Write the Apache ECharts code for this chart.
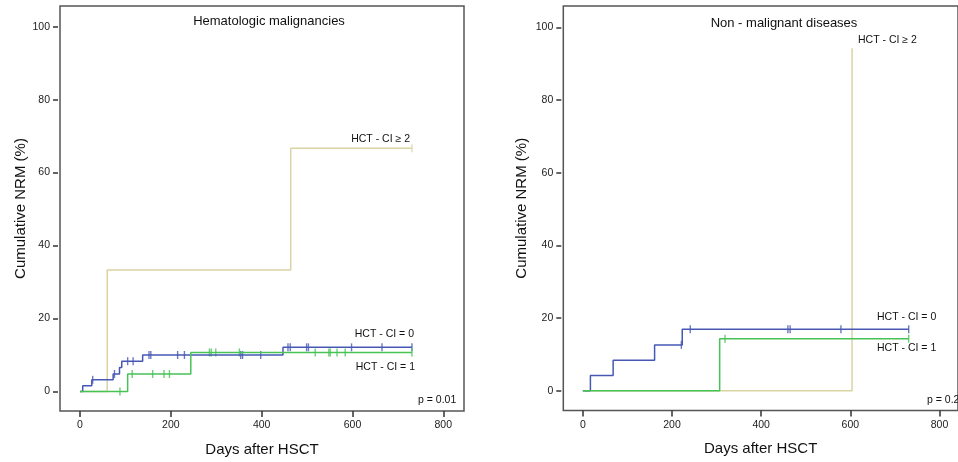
<!DOCTYPE html>
<html>
<head>
<meta charset="utf-8">
<script src="https://cdn.jsdelivr.net/npm/echarts@6/dist/echarts.min.js"></script>
<style>
  html, body { margin: 0; padding: 0; background: #fff; }
  #chart { width: 958px; height: 462px; }
</style>
</head>
<body>
<div id="chart"></div>
<script>
// Curvas de incidencia acumulada (dia, %)
const xTicks = [0, 200, 400, 600, 800];
const yTicks = [0, 20, 40, 60, 80, 100];

// Hematologic malignancies
const hemCi0Steps = [[0, 0], [6, 1.6], [26, 3.2], [73, 4.8], [87, 6.6], [92, 8.3], [138, 10.0], [447, 12.1], [731, 12.1]];
const hemCi0Censor = [28, 76, 105, 117, 152, 156, 215, 230, 354, 358, 398, 458, 463, 499, 503, 598, 665, 731];
const hemCi1Steps = [[0, 0], [105, 4.8], [244, 10.7], [731, 10.7]];
const hemCi1Censor = [88, 115, 160, 185, 197, 285, 289, 299, 351, 518, 548, 551, 566, 584, 731];
const hemCi2Steps = [[0, 0], [60, 33.3], [464, 66.7], [731, 66.7]];
const hemCi2Censor = [731];

// Non - malignant diseases
const nonCi0Steps = [[0, 0], [17, 4.2], [68, 8.4], [161, 12.6], [223, 16.9], [731, 16.9]];
const nonCi0Censor = [221, 241, 460, 465, 579, 731];
const nonCi1Steps = [[0, 0], [307, 14.3], [731, 14.3]];
const nonCi1Censor = [319, 731];
const nonCi2Steps = [[0, 0], [604, 94.2]];

const colores = { ci0: '#4658b4', ci1: '#47c255', ci2: '#dad4a3' };
const fuente = "'Liberation Sans', Arial, Helvetica, sans-serif";

// valor de la curva escalonada en un dia dado
function valorEn(steps, dia) {
  let v = 0;
  steps.forEach(p => { if (p[0] <= dia) v = p[1]; });
  return v;
}

function linea(steps, color, idx) {
  return {
    type: 'line', step: 'end', data: steps, xAxisIndex: idx, yAxisIndex: idx,
    showSymbol: false, silent: true, animation: false,
    lineStyle: { color: color, width: 1.5 }
  };
}

function censuras(steps, dias, color, idx) {
  return {
    type: 'scatter', xAxisIndex: idx, yAxisIndex: idx, silent: true, animation: false,
    data: dias.map(d => [d, valorEn(steps, d)]),
    symbol: 'rect', symbolSize: [1.4, 8],
    itemStyle: { color: color }
  };
}

function ejeX(idx, min, max) {
  return {
    type: 'value', gridIndex: idx, min: min, max: max,
    name: 'Days after HSCT', nameLocation: 'middle', nameGap: 31,
    nameTextStyle: { fontSize: 15, color: '#111', fontFamily: fuente },
    axisLine: { show: false, onZero: false },
    axisTick: { show: true, length: 6, customValues: xTicks, lineStyle: { color: '#333', width: 1.5 } },
    axisLabel: { customValues: xTicks, fontSize: 10.5, color: '#222', margin: 9, fontFamily: fuente },
    splitLine: { show: false }
  };
}

function ejeY(idx, min, max, gap) {
  return {
    type: 'value', gridIndex: idx, min: min, max: max, offset: 2,
    name: 'Cumulative NRM (%)', nameLocation: 'middle', nameGap: gap,
    nameTextStyle: { fontSize: 15, color: '#111', fontFamily: fuente },
    axisLine: { show: false, onZero: false },
    axisTick: { show: true, length: 5, customValues: yTicks, lineStyle: { color: '#333', width: 1.5 } },
    axisLabel: { customValues: yTicks, fontSize: 10.5, color: '#222', margin: 8, fontFamily: fuente },
    splitLine: { show: false }
  };
}

function texto(t, x, y, size, align) {
  return {
    type: 'text', x: x, y: y, silent: true,
    style: { text: t, fill: '#111', font: size + 'px ' + fuente, textAlign: align, textVerticalAlign: 'middle' }
  };
}

const opciones = {
  animation: false,
  grid: [
    { left: 60, top: 6, width: 404, height: 405, show: true, borderColor: '#555', borderWidth: 1.5, backgroundColor: 'transparent' },
    { left: 563.3, top: 6, width: 404, height: 404.5, show: true, borderColor: '#555', borderWidth: 1.5, backgroundColor: 'transparent' }
  ],
  xAxis: [ejeX(0, -44, 845.6), ejeX(1, -43.8, 841.6)],
  yAxis: [ejeY(0, -5.35, 105.67, 30), ejeY(1, -5.45, 105.86, 32)],
  series: [
    linea(hemCi2Steps, colores.ci2, 0),
    linea(hemCi0Steps, colores.ci0, 0),
    linea(hemCi1Steps, colores.ci1, 0),
    censuras(hemCi2Steps, hemCi2Censor, colores.ci2, 0),
    censuras(hemCi0Steps, hemCi0Censor, colores.ci0, 0),
    censuras(hemCi1Steps, hemCi1Censor, colores.ci1, 0),
    linea(nonCi2Steps, colores.ci2, 1),
    linea(nonCi0Steps, colores.ci0, 1),
    linea(nonCi1Steps, colores.ci1, 1),
    censuras(nonCi0Steps, nonCi0Censor, colores.ci0, 1),
    censuras(nonCi1Steps, nonCi1Censor, colores.ci1, 1)
  ],
  graphic: [
    texto('Hematologic malignancies', 269, 21, 13, 'center'),
    texto('HCT - CI \u2265 2', 410, 139, 10.5, 'right'),
    texto('HCT - CI = 0', 414, 334, 10.5, 'right'),
    texto('HCT - CI = 1', 415, 367.5, 10.5, 'right'),
    texto('p = 0.01', 418, 400, 10.5, 'left'),
    texto('Non - malignant diseases', 784, 23, 13, 'center'),
    texto('HCT - CI \u2265 2', 858, 40, 10.5, 'left'),
    texto('HCT - CI = 0', 877, 317.5, 10.5, 'left'),
    texto('HCT - CI = 1', 877, 348, 10.5, 'left'),
    texto('p = 0.2', 927, 400, 10.5, 'left')
  ]
};

const miGrafico = echarts.init(document.getElementById('chart'));
miGrafico.setOption(opciones);
</script>
</body>
</html>
